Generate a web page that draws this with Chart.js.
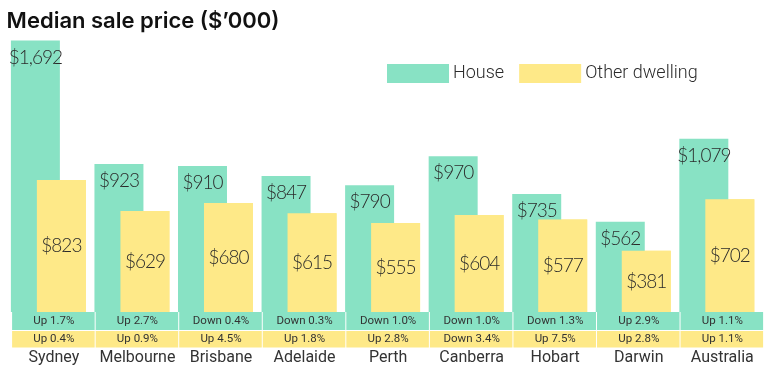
<!DOCTYPE html>
<html>
<head>
<meta charset="utf-8">
<script src="https://cdn.jsdelivr.net/npm/chart.js@4.4.0/dist/chart.umd.min.js"></script>
<style>
  html, body { margin: 0; padding: 0; background: #fff; }
</style>
</head>
<body>
<canvas id="chart" width="775" height="376"></canvas>
<script>
// Data
var cities = ['Sydney', 'Melbourne', 'Brisbane', 'Adelaide', 'Perth', 'Canberra', 'Hobart', 'Darwin', 'Australia'];
var housePrice = [1692, 923, 910, 847, 790, 970, 735, 562, 1079];
var otherPrice = [823, 629, 680, 615, 555, 604, 577, 381, 702];
var houseChange = ['Up 1.7%', 'Up 2.7%', 'Down 0.4%', 'Down 0.3%', 'Down 1.0%', 'Down 1.0%', 'Down 1.3%', 'Up 2.9%', 'Up 1.1%'];
var otherChange = ['Up 0.4%', 'Up 0.9%', 'Up 4.5%', 'Up 1.8%', 'Up 2.8%', 'Down 3.4%', 'Up 7.5%', 'Up 2.8%', 'Up 1.1%'];

var GREEN = '#88e2c4';
var YELLOW = '#fee988';
var TEXT = '#2b2b2b';
var tableShift = 5.5;  // the change table sits a little right of the bar groups

var money = function (v) {
  return '$' + v.toLocaleString('en-US');
};

var overlay = {
  id: 'overlay',
  afterDatasetsDraw: function (chart) {
    var ctx = chart.ctx;
    // yellow bars overlap the green ones, so paint them again on top
    chart.getDatasetMeta(1).controller.draw();

    ctx.save();
    ctx.fillStyle = TEXT;
    ctx.font = '300 19px Lato';
    ctx.letterSpacing = '-1px';
    ctx.textAlign = 'center';
    ctx.textBaseline = 'middle';
    chart.getDatasetMeta(0).data.forEach(function (bar, i) {
      ctx.fillText(money(housePrice[i]), bar.x, bar.y + 17);
    });
    chart.getDatasetMeta(1).data.forEach(function (bar, i) {
      ctx.fillText(money(otherPrice[i]), bar.x, (bar.y + bar.base) / 2);
    });
    ctx.restore();
  },
  afterDraw: function (chart) {
    var ctx = chart.ctx;
    var xs = chart.scales.x;
    var pitch = xs.getPixelForValue(1) - xs.getPixelForValue(0);
    var base = chart.chartArea.bottom;

    ctx.save();
    ctx.textAlign = 'center';
    ctx.textBaseline = 'middle';
    for (var i = 0; i < cities.length; i++) {
      var cx = xs.getPixelForValue(i) + tableShift;
      var left = cx - pitch / 2;
      ctx.fillStyle = GREEN;
      ctx.fillRect(left, base, pitch - 1, 18);
      ctx.fillStyle = YELLOW;
      ctx.fillRect(left, base + 19, pitch - 1, 16.5);

      ctx.fillStyle = '#333';
      ctx.font = '11.5px Roboto';
      ctx.fillText(houseChange[i], cx, base + 9);
      ctx.fillText(otherChange[i], cx, base + 27.5);
      ctx.font = '16px Roboto';
      ctx.fillText(cities[i], cx, base + 46);
    }

    // legend, top right inside the plot
    var lx = 387, ly = 64;
    ctx.font = '300 18px Roboto';
    ctx.textAlign = 'left';
    chart.data.datasets.forEach(function (ds) {
      ctx.fillStyle = ds.backgroundColor;
      ctx.fillRect(lx, ly, 62, 19);
      ctx.fillStyle = TEXT;
      ctx.fillText(ds.label, lx + 66, ly + 9.5);
      lx += 66 + ctx.measureText(ds.label).width + 15;
    });
    ctx.restore();
  }
};

new Chart(document.getElementById('chart'), {
  type: 'bar',
  data: {
    labels: cities,
    datasets: [
      { label: 'House', data: housePrice, backgroundColor: GREEN },
      { label: 'Other dwelling', data: otherPrice, backgroundColor: YELLOW }
    ]
  },
  options: {
    responsive: false,
    animation: false,
    categoryPercentage: 0.622,
    barPercentage: 1.885,
    layout: { padding: { left: 6.6, right: 16.4, top: 1.8, bottom: 64 } },
    scales: {
      x: { display: false },
      y: { display: false, min: 0, max: 1700 }
    },
    plugins: {
      legend: { display: false },
      tooltip: { enabled: false },
      title: {
        display: true,
        text: 'Median sale price ($’000)',
        align: 'start',
        color: '#111',
        font: { family: 'Inter', size: 22, weight: 600 },
        padding: { top: 6, bottom: 5 }
      }
    }
  },
  plugins: [overlay]
});
</script>
</body>
</html>
